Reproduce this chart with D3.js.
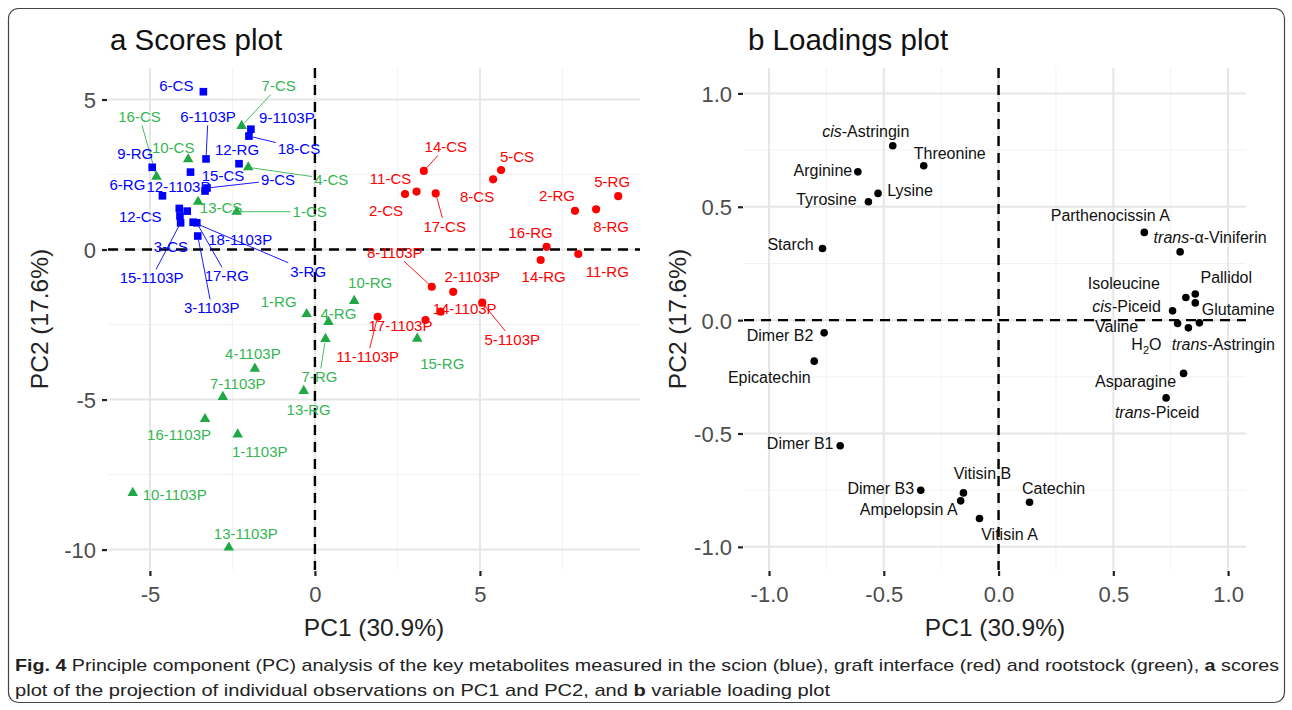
<!DOCTYPE html>
<html><head><meta charset="utf-8">
<script src="https://cdn.jsdelivr.net/npm/d3@7"></script>
<style>
body{margin:0;background:#fff}
svg{display:block}
text{font-family:"Liberation Sans",Arial,Helvetica,sans-serif}
</style>
</head><body>
<svg id="chart" width="1292" height="710"></svg>
<script>
// ---------------- DATA ----------------
// Scores (PC1, PC2) : scion (blue)
const scionScores = [
  {name:"6-CS",pc1:-3.38,pc2:5.26},{name:"9-1103P",pc1:-1.94,pc2:4.01},{name:"18-CS",pc1:-2.00,pc2:3.78},
  {name:"6-1103P",pc1:-3.30,pc2:3.02},{name:"9-RG",pc1:-4.93,pc2:2.74},{name:"12-RG",pc1:-2.30,pc2:2.86},
  {name:"12-1103P",pc1:-3.77,pc2:2.58},{name:"15-CS",pc1:-3.33,pc2:1.95},{name:"9-CS",pc1:-3.27,pc2:2.05},
  {name:"6-RG",pc1:-4.62,pc2:1.79},{name:"12-CS",pc1:-4.11,pc2:1.37},{name:"18-1103P",pc1:-3.87,pc2:1.28},
  {name:"3-CS",pc1:-4.09,pc2:1.12},{name:"15-1103P",pc1:-4.07,pc2:0.89},{name:"3-RG",pc1:-3.69,pc2:0.91},
  {name:"17-RG",pc1:-3.58,pc2:0.89},{name:"3-1103P",pc1:-3.55,pc2:0.45}
];
// graft interface (red)
const graftScores = [
  {name:"14-CS",pc1:3.30,pc2:2.62},{name:"5-CS",pc1:5.64,pc2:2.65},{name:"8-CS",pc1:5.40,pc2:2.34},
  {name:"11-CS",pc1:3.08,pc2:1.93},{name:"2-CS",pc1:2.73,pc2:1.85},{name:"17-CS",pc1:3.66,pc2:1.87},
  {name:"2-RG",pc1:7.88,pc2:1.29},{name:"8-RG",pc1:8.52,pc2:1.34},{name:"5-RG",pc1:9.19,pc2:1.78},
  {name:"16-RG",pc1:7.02,pc2:0.09},{name:"11-RG",pc1:7.98,pc2:-0.15},{name:"14-RG",pc1:6.84,pc2:-0.35},
  {name:"8-1103P",pc1:3.54,pc2:-1.24},{name:"2-1103P",pc1:4.19,pc2:-1.41},{name:"14-1103P",pc1:3.81,pc2:-2.07},
  {name:"5-1103P",pc1:5.07,pc2:-1.77},{name:"17-1103P",pc1:3.35,pc2:-2.35},{name:"11-1103P",pc1:1.90,pc2:-2.24}
];
// rootstock (green)
const rootScores = [
  {name:"7-CS",pc1:-2.22,pc2:4.12},{name:"16-CS",pc1:-4.80,pc2:2.43},{name:"10-CS",pc1:-3.84,pc2:3.01},
  {name:"4-CS",pc1:-2.02,pc2:2.74},{name:"13-CS",pc1:-3.54,pc2:1.59},{name:"1-CS",pc1:-2.37,pc2:1.26},
  {name:"10-RG",pc1:1.19,pc2:-1.71},{name:"1-RG",pc1:-0.25,pc2:-2.15},{name:"4-RG",pc1:0.41,pc2:-2.41},
  {name:"7-RG",pc1:0.32,pc2:-2.98},{name:"15-RG",pc1:3.10,pc2:-2.97},{name:"13-RG",pc1:-0.34,pc2:-4.71},
  {name:"4-1103P",pc1:-1.82,pc2:-3.97},{name:"7-1103P",pc1:-2.79,pc2:-4.91},{name:"16-1103P",pc1:-3.33,pc2:-5.65},
  {name:"1-1103P",pc1:-2.34,pc2:-6.16},{name:"10-1103P",pc1:-5.52,pc2:-8.11},{name:"13-1103P",pc1:-2.61,pc2:-9.93}
];
// Loadings
const loadings = [
  {name:"cis-Astringin",pc1:-0.461,pc2:0.769},{name:"Threonine",pc1:-0.326,pc2:0.681},
  {name:"Arginine",pc1:-0.613,pc2:0.654},{name:"Lysine",pc1:-0.525,pc2:0.559},
  {name:"Tyrosine",pc1:-0.567,pc2:0.522},{name:"Starch",pc1:-0.767,pc2:0.316},
  {name:"Parthenocissin A",pc1:0.635,pc2:0.387},{name:"trans-α-Viniferin",pc1:0.791,pc2:0.301},
  {name:"Pallidol",pc1:0.857,pc2:0.115},{name:"Isoleucine",pc1:0.816,pc2:0.100},
  {name:"Glutamine",pc1:0.857,pc2:0.076},{name:"cis-Piceid",pc1:0.758,pc2:0.041},
  {name:"Valine",pc1:0.780,pc2:-0.015},{name:"H2O",pc1:0.827,pc2:-0.034},
  {name:"trans-Astringin",pc1:0.875,pc2:-0.012},{name:"Asparagine",pc1:0.806,pc2:-0.235},
  {name:"trans-Piceid",pc1:0.730,pc2:-0.343},{name:"Dimer B2",pc1:-0.760,pc2:-0.056},
  {name:"Epicatechin",pc1:-0.803,pc2:-0.181},{name:"Dimer B1",pc1:-0.690,pc2:-0.554},
  {name:"Dimer B3",pc1:-0.339,pc2:-0.750},{name:"Vitisin B",pc1:-0.153,pc2:-0.762},
  {name:"Ampelopsin A",pc1:-0.165,pc2:-0.797},{name:"Vitisin A",pc1:-0.083,pc2:-0.875},
  {name:"Catechin",pc1:0.135,pc2:-0.803}
];
const scoreXTicks = [-5, 0, 5];
const scoreYTicks = [-10, -5, 0, 5];
const loadTicks = [-1.0, -0.5, 0.0, 0.5, 1.0];
const axisTitleX = "PC1 (30.9%)";
const axisTitleY = "PC2 (17.6%)";

// ---------------- LAYOUT (label placement, like ggrepel output) ----------------
const scoreLabelOffset = {
  "6-CS":[-27,-6],"9-1103P":[36,-12],"18-CS":[50,12],"6-1103P":[2,-42],"9-RG":[-17,-14],
  "12-RG":[-2,-14],"12-1103P":[-12,14],"15-CS":[18,-15],"9-CS":[71,-8],"6-RG":[-35,-11],
  "12-CS":[-39,8],"18-1103P":[53,28],"3-CS":[-9,31],"15-1103P":[-29,55],"3-RG":[115,49],
  "17-RG":[30,53],"3-1103P":[14,72],
  "14-CS":[22,-24],"5-CS":[16,-13],"8-CS":[-16,17],"11-CS":[-26,-13],"2-CS":[-19,17],
  "17-CS":[9,33],"2-RG":[-18,-15],"8-RG":[15,17],"5-RG":[-6,-15],"16-RG":[-16,-14],
  "11-RG":[29,18],"14-RG":[3,17],"8-1103P":[-37,-34],"2-1103P":[19,-15],"14-1103P":[24,-3],
  "5-1103P":[30,37],"17-1103P":[-25,6],"11-1103P":[-10,40],
  "7-CS":[37,-40],"16-CS":[-17,-60],"10-CS":[-15,-12],"4-CS":[83,12],"13-CS":[23,6],
  "1-CS":[73,0],"10-RG":[16,-18],"1-RG":[-28,-12],"4-RG":[10,-8],"7-RG":[-6,38],
  "15-RG":[25,25],"13-RG":[5,19],"4-1103P":[-2,-15],"7-1103P":[15,-13],"16-1103P":[-26,16],
  "1-1103P":[22,17],"10-1103P":[42,2],"13-1103P":[17,-14]
};
const scoreSegments = ["18-CS","6-1103P","16-CS","7-CS","9-CS","4-CS","1-CS","15-1103P","17-RG",
  "3-1103P","3-RG","14-CS","17-CS","8-1103P","5-1103P","11-1103P","7-RG"];
const loadLabelOffset = {
  "cis-Astringin":[-27,-15],"Threonine":[26,-12],"Arginine":[-35,-2],"Lysine":[32,-3],
  "Tyrosine":[-42,-3],"Starch":[-32,-4],"Parthenocissin A":[-34,-17],"trans-α-Viniferin":[30,-15],
  "Pallidol":[31,-17],"Isoleucine":[-62,-14],"Glutamine":[43,6],"cis-Piceid":[-46,-5],
  "Valine":[-61,3],"H2O":[-42,16],"trans-Astringin":[24,21],"Asparagine":[-48,8],
  "trans-Piceid":[-9,14],"Dimer B2":[-44,2],"Epicatechin":[-45,16],"Dimer B1":[-40,-3],
  "Dimer B3":[-40,-2],"Vitisin B":[19,-20],"Ampelopsin A":[-52,8],"Vitisin A":[30,16],"Catechin":[24,-14]
};

// ---------------- DRAW ----------------
const svg = d3.select("#chart");
const C = {blue:"#0000ff", red:"#ff0000", greenPt:"#1fa843", greenTx:"#35b653"};

// frame
svg.append("rect").attr("x",8.5).attr("y",8.5).attr("width",1276).attr("height",694)
  .attr("rx",10).attr("fill","none").attr("stroke","#444").attr("stroke-width",1.2);

function makePanel(o){
  const x = d3.scaleLinear().domain(o.xd).range([o.L,o.R]);
  const y = d3.scaleLinear().domain(o.yd).range([o.B,o.T]);
  const g = svg.append("g");
  const grid = g.append("g");
  o.xMinor.forEach(v=>grid.append("line").attr("x1",x(v)).attr("x2",x(v)).attr("y1",o.T).attr("y2",o.B)
    .attr("stroke","#f2f2f2").attr("stroke-width",1));
  o.yMinor.forEach(v=>grid.append("line").attr("y1",y(v)).attr("y2",y(v)).attr("x1",o.L).attr("x2",o.R)
    .attr("stroke","#f2f2f2").attr("stroke-width",1));
  o.xTicks.forEach(v=>grid.append("line").attr("x1",x(v)).attr("x2",x(v)).attr("y1",o.T).attr("y2",o.B)
    .attr("stroke","#e6e6e6").attr("stroke-width",2));
  o.yTicks.forEach(v=>grid.append("line").attr("y1",y(v)).attr("y2",y(v)).attr("x1",o.L).attr("x2",o.R)
    .attr("stroke","#e6e6e6").attr("stroke-width",2));
  const ax = g.append("g").attr("transform",`translate(0,${o.B+1})`)
    .call(d3.axisBottom(x).tickValues(o.xTicks).tickSize(5).tickPadding(10).tickFormat(o.fmt));
  const ay = g.append("g").attr("transform",`translate(${o.L-1},0)`)
    .call(d3.axisLeft(y).tickValues(o.yTicks).tickSize(5).tickPadding(6).tickFormat(o.fmt));
  [ax,ay].forEach(a=>{
    a.select(".domain").remove();
    a.selectAll(".tick line").attr("stroke","#222").attr("stroke-width",2.2);
    a.selectAll(".tick text").attr("fill","#4d4d4d").attr("font-size",o.tickFs)
      .attr("font-family","'Liberation Sans',Arial,sans-serif");
  });
  ay.selectAll(".tick text").attr("dy","0.36em");
  g.append("line").attr("x1",x(0)).attr("x2",x(0)).attr("y1",o.T).attr("y2",o.B)
    .attr("stroke","#000").attr("stroke-width",2.4).attr("stroke-dasharray","10,7");
  g.append("line").attr("x1",o.L).attr("x2",o.R).attr("y1",y(0)).attr("y2",y(0))
    .attr("stroke","#000").attr("stroke-width",2.4).attr("stroke-dasharray","10,7");
  svg.append("text").attr("x",o.titleX).attr("y",50).attr("font-size",29.5).attr("fill","#111").text(o.title);
  svg.append("text").attr("x",(o.L+o.R)/2).attr("y",636).attr("text-anchor","middle")
    .attr("font-size",24.5).attr("fill","#222").text(axisTitleX);
  svg.append("text").attr("transform",`translate(${o.yTitleX},${(o.T+o.B)/2}) rotate(-90)`)
    .attr("text-anchor","middle").attr("font-size",24.5).attr("fill","#222").text(axisTitleY);
  return {x,y,g};
}

function richText(sel, name){
  let m;
  if(name==="H2O"){
    sel.append("tspan").text("H");
    sel.append("tspan").attr("font-size","0.68em").attr("dy",4).text("2");
    sel.append("tspan").attr("dy",-4).text("O");
  } else if((m = name.match(/^(cis|trans)(-.*)$/))){
    sel.append("tspan").attr("font-style","italic").text(m[1]);
    sel.append("tspan").text(m[2]);
  } else sel.text(name);
}

function segment(layer, px, py, lx, ly, bb, color){
  const dx = px-lx, dy = py-ly;
  const hw = bb.width/2+2, hh = bb.height/2;
  const t = Math.min(dx? hw/Math.abs(dx):Infinity, dy? hh/Math.abs(dy):Infinity);
  if(t>=0.85) return;
  const len = Math.hypot(dx,dy);
  layer.append("line").attr("x1",lx+dx*t).attr("y1",ly+dy*t)
    .attr("x2",px-dx/len*4).attr("y2",py-dy/len*4)
    .attr("stroke",color).attr("stroke-width",0.9);
}

// ---- Scores panel ----
const S = makePanel({L:108,R:640,T:68,B:570,xd:[-6.27,9.85],yd:[-10.68,6.05],
  xTicks:scoreXTicks,yTicks:scoreYTicks,xMinor:[-2.5,2.5,7.5],yMinor:[-7.5,-2.5,2.5],
  fmt:d=>String(d),tickFs:22,title:"a Scores plot",titleX:110,yTitleX:48});
const segLayer = S.g.append("g"), ptLayer = S.g.append("g"), lbLayer = S.g.append("g");
const groups = [
  {data:scionScores, shape:d3.symbolSquare, size:58, pt:C.blue, tx:C.blue},
  {data:graftScores, shape:d3.symbolCircle, size:52, pt:C.red, tx:C.red},
  {data:rootScores, shape:d3.symbolTriangle, size:48, pt:C.greenPt, tx:C.greenTx}
];
groups.forEach(gr=>{
  ptLayer.selectAll(null).data(gr.data).join("path")
    .attr("transform",d=>`translate(${S.x(d.pc1)},${S.y(d.pc2)})`)
    .attr("d",d3.symbol(gr.shape,gr.size)).attr("fill",gr.pt);
  gr.data.forEach(d=>{
    const px=S.x(d.pc1), py=S.y(d.pc2), off=scoreLabelOffset[d.name]||[0,-12];
    const lx=px+off[0], ly=py+off[1];
    const t = lbLayer.append("text").attr("x",lx).attr("y",ly).attr("dy","0.36em")
      .attr("text-anchor","middle").attr("font-size",15).attr("fill",gr.tx).text(d.name);
    if(scoreSegments.includes(d.name)) segment(segLayer,px,py,lx,ly,t.node().getBBox(),gr.tx);
  });
});

// ---- Loadings panel ----
const Lp = makePanel({L:744,R:1246,T:68,B:570,xd:[-1.109,1.078],yd:[-1.102,1.112],
  xTicks:loadTicks,yTicks:loadTicks,xMinor:[-0.75,-0.25,0.25,0.75],yMinor:[-0.75,-0.25,0.25,0.75],
  fmt:d=>d.toFixed(1),tickFs:22,title:"b Loadings plot",titleX:748,yTitleX:686});
Lp.g.append("g").selectAll(null).data(loadings).join("circle")
  .attr("cx",d=>Lp.x(d.pc1)).attr("cy",d=>Lp.y(d.pc2)).attr("r",3.8).attr("fill","#000");
const lLab = Lp.g.append("g");
loadings.forEach(d=>{
  const off = loadLabelOffset[d.name]||[0,-12];
  const t = lLab.append("text").attr("x",Lp.x(d.pc1)+off[0]).attr("y",Lp.y(d.pc2)+off[1])
    .attr("dy","0.36em").attr("text-anchor","middle").attr("font-size",16).attr("fill","#111");
  richText(t,d.name);
});

// ---- Caption ----
const capFont = "'Liberation Sans Narrow','Liberation Sans',Arial,sans-serif";
const cap1 = svg.append("text").attr("x",15).attr("y",671).attr("font-size",17)
  .attr("font-family",capFont).attr("fill","#222");
cap1.append("tspan").attr("font-weight","bold").text("Fig. 4");
cap1.append("tspan").text(" Principle component (PC) analysis of the key metabolites measured in the scion (blue), graft interface (red) and rootstock (green), ");
cap1.append("tspan").attr("font-weight","bold").text("a");
cap1.append("tspan").text(" scores");
const cap2 = svg.append("text").attr("x",15).attr("y",696).attr("font-size",17)
  .attr("font-family",capFont).attr("fill","#222");
cap2.append("tspan").text("plot of the projection of individual observations on PC1 and PC2, and ");
cap2.append("tspan").attr("font-weight","bold").text("b");
cap2.append("tspan").text(" variable loading plot");
cap1.attr("textLength",1264).attr("lengthAdjust","spacingAndGlyphs");
cap2.attr("textLength",815).attr("lengthAdjust","spacingAndGlyphs");
</script>
</body></html>
